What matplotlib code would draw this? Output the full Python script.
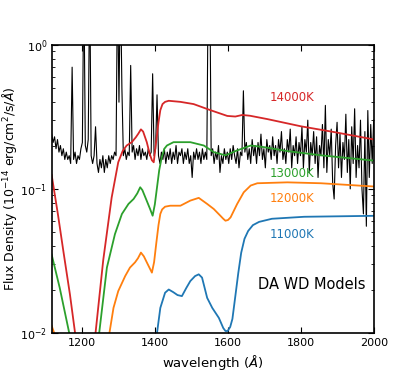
import matplotlib
matplotlib.use("Agg")
import matplotlib.pyplot as plt
import numpy as np

obs_wl = np.arange(1118, 2000, 4)
obs_fx = [
    0.24, 0.21, 0.23, 0.19, 0.22, 0.18, 0.20, 0.17, 0.19, 0.16,
    0.18, 0.16, 0.17, 0.15, 0.70, 0.16, 0.18, 0.15, 0.17, 0.16,
    0.19, 0.21, 3.0, 0.20, 0.18, 0.22, 3.0, 0.17, 0.15, 0.17,
    0.27, 0.15, 0.13, 0.16, 0.14, 0.17, 0.13, 0.16, 0.14, 0.17,
    0.15, 0.17, 0.16, 0.18, 0.17, 3.0, 0.40, 3.0, 0.50, 0.17,
    0.19, 0.16, 0.18, 0.17, 0.72, 0.18, 0.20, 0.16, 0.19, 0.17,
    0.20, 0.16, 0.19, 0.17, 0.18, 0.16, 0.19, 0.17, 0.18, 0.63,
    0.17, 0.19, 0.45, 0.17, 0.15, 0.18, 0.16, 0.19, 0.15, 0.18,
    0.16, 0.19, 0.15, 0.18, 0.16, 0.20, 0.15, 0.18, 0.17, 0.19,
    0.15, 0.18, 0.16, 0.19, 0.15, 0.17, 0.12, 0.18, 0.16, 0.19,
    0.16, 0.18, 0.15, 0.19, 0.16, 0.18, 0.16, 3.0, 3.0, 0.17,
    0.19, 0.15, 0.18, 0.16, 0.20, 0.13, 0.17, 0.15, 0.19, 0.16,
    0.18, 0.15, 0.19, 0.16, 0.20, 0.17, 0.15, 0.19, 0.14, 0.18,
    0.17, 0.48, 0.18, 0.21, 0.16, 0.19, 0.15, 0.22, 0.17, 0.20,
    0.15, 0.21, 0.17, 0.24, 0.16, 0.19, 0.14, 0.22, 0.18, 0.20,
    0.16, 0.23, 0.17, 0.20, 0.15, 0.22, 0.18, 0.25, 0.16, 0.19,
    0.15, 0.22, 0.18, 0.26, 0.14, 0.20, 0.17, 0.23, 0.15, 0.21,
    0.17, 0.27, 0.14, 0.22, 0.18, 0.30, 0.13, 0.21, 0.17, 0.25,
    0.15, 0.23, 0.12, 0.20, 0.17, 0.28, 0.14, 0.38, 0.13, 0.22,
    0.17, 0.26, 0.11, 0.085, 0.20, 0.29, 0.14, 0.24, 0.12, 0.21,
    0.16, 0.33, 0.13, 0.22, 0.10, 0.27, 0.15, 0.36, 0.12, 0.20,
    0.14, 0.30, 0.10, 0.067, 0.25, 0.055, 0.35, 0.12, 0.28, 0.15,
    0.30,
]

## DA WD model curves
red_wl = [1118, 1135, 1150, 1168, 1182, 1210, 1238, 1259, 1282, 1300, 1312, 1323, 1337, 1348,
          1355, 1362, 1368, 1378, 1386, 1392, 1397, 1404, 1410, 1415, 1421, 1428, 1438, 1470,
          1506, 1552, 1598, 1620, 1639, 1660, 1708, 1799, 1890, 2000]
red_fx = [0.125, 0.067, 0.037, 0.0185, 0.010, 0.003, 0.010, 0.032, 0.087, 0.153, 0.183, 0.200,
          0.211, 0.228, 0.242, 0.259, 0.250, 0.211, 0.175, 0.158, 0.153, 0.217, 0.29, 0.352,
          0.388, 0.402, 0.409, 0.402, 0.388, 0.352, 0.321, 0.318, 0.326, 0.322, 0.305, 0.272,
          0.248, 0.220]

green_wl = [1118, 1140, 1166, 1200, 1248, 1269, 1291, 1310, 1328, 1342, 1352, 1360, 1366, 1374,
            1387, 1394, 1400, 1406, 1412, 1419, 1426, 1433, 1451, 1497, 1534, 1561, 1593, 1625,
            1662, 1698, 1762, 1854, 2000]
green_fx = [0.035, 0.0206, 0.010, 0.003, 0.010, 0.0284, 0.0485, 0.0669, 0.0786, 0.0851, 0.093,
            0.1026, 0.098, 0.0874, 0.0725, 0.0651, 0.078, 0.1026, 0.135, 0.166, 0.19, 0.200,
            0.211, 0.211, 0.200, 0.180, 0.171, 0.185, 0.200, 0.195, 0.183, 0.171, 0.157]

orange_wl = [1118, 1128, 1150, 1250, 1276, 1287, 1300, 1319, 1332, 1346, 1354, 1362, 1370, 1378,
             1392, 1398, 1404, 1410, 1415, 1420, 1428, 1442, 1470, 1497, 1520, 1543, 1561, 1579,
             1587, 1593, 1600, 1607, 1625, 1643, 1662, 1680, 1762, 1854, 2000]
orange_fx = [0.0112, 0.0095, 0.005, 0.004, 0.010, 0.0149, 0.0195, 0.0248, 0.0284, 0.0309, 0.033,
             0.0361, 0.034, 0.0309, 0.0262, 0.031, 0.042, 0.056, 0.0670, 0.072, 0.0752, 0.0764,
             0.0764, 0.0829, 0.0866, 0.0786, 0.0725, 0.0651, 0.062, 0.0601, 0.0608, 0.0634,
             0.0786, 0.0947, 0.1055, 0.1094, 0.111, 0.1094, 0.1038]

blue_wl = [1395, 1406, 1415, 1428, 1438, 1450, 1462, 1474, 1486, 1497, 1510, 1520, 1529, 1543,
           1557, 1575, 1587, 1593, 1599, 1606, 1612, 1620, 1628, 1636, 1645, 1655, 1668, 1685,
           1720, 1808, 2000]
blue_fx = [0.006, 0.010, 0.0149, 0.019, 0.0200, 0.0192, 0.0183, 0.018, 0.0205, 0.0229, 0.0248,
           0.0255, 0.0242, 0.0175, 0.0149, 0.0127, 0.0108, 0.0103, 0.0103, 0.0110, 0.0125,
           0.018, 0.026, 0.036, 0.045, 0.051, 0.056, 0.059, 0.062, 0.064, 0.065]

fig = plt.figure(figsize=(4.16, 3.74), dpi=100)
ax = fig.add_subplot(111)

ax.plot(obs_wl, obs_fx, color="black", lw=0.8)
ax.plot(red_wl, red_fx, color="#d62728", lw=1.3)
ax.plot(green_wl, green_fx, color="#2ca02c", lw=1.3)
ax.plot(orange_wl, orange_fx, color="#ff7f0e", lw=1.3)
ax.plot(blue_wl, blue_fx, color="#1f77b4", lw=1.3)

ax.text(1714, 0.43, "14000K", color="#d62728", fontsize=8.5, va="center")
ax.text(1714, 0.128, "13000K", color="#2ca02c", fontsize=8.5, va="center")
ax.text(1714, 0.086, "12000K", color="#ff7f0e", fontsize=8.5, va="center")
ax.text(1714, 0.048, "11000K", color="#1f77b4", fontsize=8.5, va="center")
ax.text(1681, 0.0215, "DA WD Models", color="black", fontsize=10.5, va="center")

ax.set_yscale("log")
ax.set_xlim(1119, 2000)
ax.set_ylim(1e-2, 1e0)
ax.set_xticks([1200, 1400, 1600, 1800, 2000])
ax.tick_params(which="both", direction="in", top=True, right=True, labelsize=8)
ax.tick_params(which="major", length=4)
ax.tick_params(which="minor", length=2)
for s in ax.spines.values():
    s.set_linewidth(1.2)

ax.set_xlabel(r"wavelength ($\AA$)", fontsize=9.5)
ax.set_ylabel(r"Flux Density (10$^{-14}$ erg/cm$^2$/s/$\AA$)", fontsize=9, labelpad=0.5)

plt.savefig("out.png", dpi=100)
